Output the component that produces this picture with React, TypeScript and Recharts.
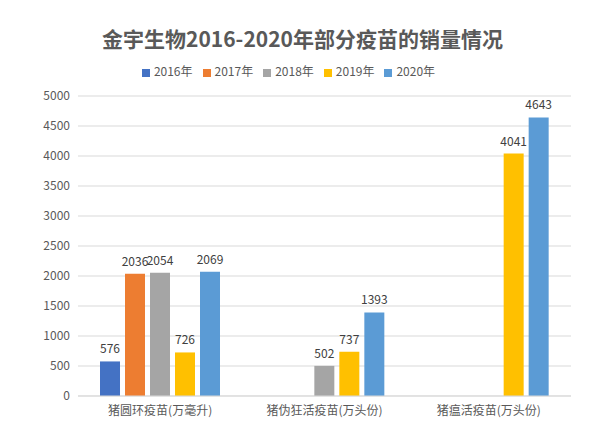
import {
  BarChart,
  Bar,
  XAxis,
  YAxis,
  CartesianGrid,
  Legend,
  LabelList,
} from "recharts";

const categories = ["猪圆环疫苗(万毫升)", "猪伪狂活疫苗(万头份)", "猪瘟活疫苗(万头份)"];
const years = ["2016年", "2017年", "2018年", "2019年", "2020年"];
const v2016 = [576, null, null];
const v2017 = [2036, null, null];
const v2018 = [2054, 502, null];
const v2019 = [726, 737, 4041];
const v2020 = [2069, 1393, 4643];
const yTicks = [0, 500, 1000, 1500, 2000, 2500, 3000, 3500, 4000, 4500, 5000];

const COLORS = ["#4472C4", "#ED7D31", "#A5A5A5", "#FFC000", "#5B9BD5"];
const seriesValues = [v2016, v2017, v2018, v2019, v2020];

const data = categories.map((name, i) => {
  const row: Record<string, string | number | null> = { name };
  years.forEach((y, s) => {
    row[y] = seriesValues[s][i];
  });
  return row;
});

const FONT = '"Noto Sans CJK SC", "Noto Sans", sans-serif';

export default function App() {
  return (
    <div style={{ position: "relative", width: 605, height: 425, background: "#fff", fontFamily: FONT }}>
      <style>{`body{margin:0}`}</style>
      <div
        style={{
          position: "absolute",
          top: 24,
          left: 0,
          width: 605,
          textAlign: "center",
          fontSize: 21,
          fontWeight: 700,
          color: "#595959",
          lineHeight: "28px",
        }}
      >
        金宇生物2016-2020年部分疫苗的销量情况
      </div>
      <BarChart
        width={605}
        height={425}
        data={data}
        margin={{ top: 79, right: 34, left: 0, bottom: 5 }}
        barSize={20}
        barGap={5}
      >
        <CartesianGrid vertical={false} stroke="#D9D9D9" />
        <XAxis
          dataKey="name"
          axisLine={{ stroke: "#D9D9D9" }}
          tickLine={false}
          tickSize={0}
          tickMargin={10}
          height={24}
          tick={{ fill: "#595959", fontSize: 12, fontFamily: FONT }}
        />
        <YAxis
          width={78}
          domain={[0, 5000]}
          ticks={yTicks}
          axisLine={false}
          tickLine={false}
          tickSize={0}
          tickMargin={8}
          tick={{ fill: "#595959", fontSize: 12, fontFamily: FONT }}
        />
        <Legend
          verticalAlign="top"
          align="center"
          iconType="square"
          iconSize={8}
          wrapperStyle={{ top: 62, left: 8, fontSize: 12, fontFamily: FONT }}
          formatter={(value: string) => <span style={{ color: "#595959" }}>{value}</span>}
        />
        {years.map((y, s) => (
          <Bar key={y} dataKey={y} fill={COLORS[s]} isAnimationActive={false}>
            <LabelList
              dataKey={y}
              position="top"
              offset={8}
              fill="#404040"
              fontSize={12}
              fontFamily={FONT}
            />
          </Bar>
        ))}
      </BarChart>
    </div>
  );
}
